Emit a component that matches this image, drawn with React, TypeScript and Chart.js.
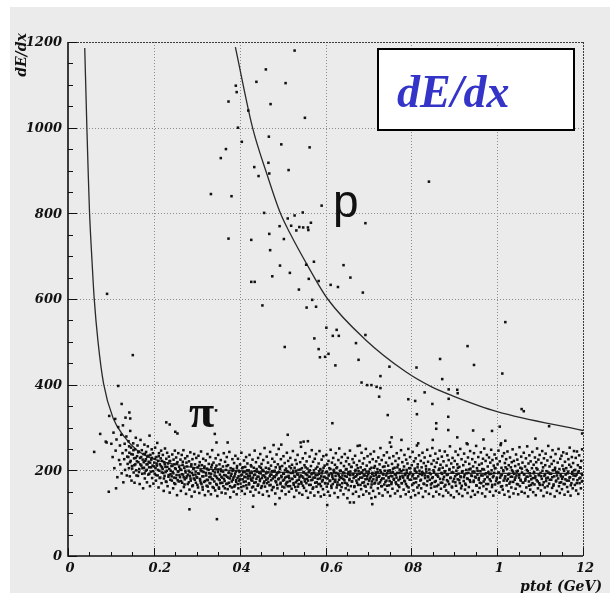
import React, { useEffect, useRef } from 'react';
import { Chart, registerables } from 'chart.js';

Chart.register(...registerables);

const W = 610;
const H = 593;

// Axis ticks and their printed labels
const xMajorTicks = [0, 0.2, 0.4, 0.6, 0.8, 1.0, 1.2];
const xTickLabels = ['0', '0.2', '04', '0.6', '08', '1', '12'];
const yMajorTicks = [0, 200, 400, 600, 800, 1000, 1200];
const yTickLabels = ['0', '200', '400', '600', '800', '1000', '1200'];

// Expected dE/dx bands
const pionCurveP = [0.039, 0.044, 0.047, 0.05, 0.056, 0.061, 0.07, 0.083, 0.105, 0.13, 0.161, 0.192, 0.243, 0.313, 0.4, 0.5, 0.7, 0.9, 1.2];
const pionCurveDedx = [1186, 1000, 898, 806, 688, 602, 500, 402, 322, 280, 247, 229, 215, 204, 199, 195, 193, 193, 193];
const protonCurveP = [0.39, 0.43, 0.464, 0.495, 0.517, 0.56, 0.605, 0.693, 0.787, 0.845, 0.896, 1.0, 1.2];
const protonCurveDedx = [1188, 1000, 890, 800, 754, 675, 600, 505, 430, 396, 374, 337, 293];

// Proton candidates and other tracks above the pion band
const highTracks: number[][] = [
  [0.528, 1180], [0.461, 1136], [0.439, 1107], [0.507, 1104], [0.391, 1098], [0.393, 1083], [0.374, 1061],
  [0.472, 1055], [0.42, 1040], [0.552, 1023], [0.396, 1000], [0.468, 979], [0.405, 967], [0.497, 961],
  [0.563, 954], [0.368, 950], [0.356, 929], [0.434, 908], [0.467, 918], [0.444, 887], [0.469, 893],
  [0.514, 901], [0.333, 845], [0.381, 840], [0.591, 818], [0.457, 801], [0.547, 802], [0.528, 795],
  [0.566, 778], [0.512, 788], [0.493, 770], [0.52, 771], [0.539, 768], [0.548, 767], [0.559, 767],
  [0.56, 761], [0.532, 760], [0.693, 777], [0.469, 752], [0.374, 741], [0.427, 738], [0.503, 740],
  [0.471, 714], [0.573, 687], [0.494, 678], [0.555, 680], [0.642, 679], [0.658, 650], [0.476, 653],
  [0.517, 661], [0.561, 647], [0.584, 642], [0.612, 633], [0.629, 628], [0.538, 622], [0.687, 615],
  [0.427, 640], [0.435, 640], [0.453, 585], [0.569, 598], [0.556, 580], [0.578, 582], [0.602, 533],
  [0.626, 528], [0.617, 514], [0.631, 514], [0.574, 508], [0.693, 516], [0.671, 497], [0.505, 488],
  [0.584, 483], [0.607, 472], [0.587, 464], [0.599, 465], [0.677, 458], [0.623, 445], [0.749, 442],
  [0.812, 440], [0.867, 460], [0.872, 413], [0.728, 420], [0.684, 405], [0.697, 399], [0.707, 399],
  [0.719, 395], [0.728, 392], [0.725, 372], [0.831, 382], [0.793, 366], [0.887, 389], [0.841, 874],
  [1.019, 546], [0.931, 490], [0.946, 446], [1.012, 426], [0.907, 388], [0.908, 380], [0.809, 362],
  [0.849, 355], [0.887, 367], [0.813, 331], [1.057, 343], [1.062, 338], [1.121, 303], [0.886, 325],
  [0.858, 310], [0.858, 297], [0.886, 294], [0.944, 293], [0.988, 292], [1.006, 302], [1.198, 286],
  [0.907, 277], [0.968, 272], [1.019, 269], [1.009, 263], [0.931, 261], [1.089, 274], [0.85, 271],
  [0.816, 263], [0.616, 310], [0.745, 329], [0.542, 265], [0.549, 267], [0.559, 268],
];

// Stray pion-side tracks off the main band
const strayTracks: number[][] = [
  [0.117, 397], [0.125, 355], [0.143, 335], [0.134, 323], [0.145, 321], [0.096, 327], [0.11, 320],
  [0.075, 285], [0.088, 267], [0.09, 265], [0.061, 243], [0.095, 150], [0.229, 312], [0.237, 307],
  [0.25, 290], [0.255, 286], [0.342, 285], [0.346, 265], [0.372, 265], [0.512, 283], [0.283, 109],
  [0.347, 86], [0.431, 115], [0.483, 121], [0.604, 119], [0.657, 125], [0.666, 125], [0.709, 121],
  [0.707, 135], [0.091, 612], [0.151, 469], [0.479, 259], [0.497, 260], [0.68, 258], [0.75, 265],
  [0.754, 277], [0.777, 271], [0.345, 340],
];

// Minimum-ionising pion band, full spread
const pionBand: number[][] = [
  [0.101, 262], [0.104, 231], [0.106, 288], [0.108, 205], [0.111, 246], [0.113, 272], [0.115, 184], [0.117, 301], [0.119, 224], [0.112, 158],
  [0.121, 258], [0.122, 214], [0.124, 283], [0.125, 193], [0.127, 240], [0.128, 305], [0.129, 172], [0.131, 226], [0.132, 262], [0.133, 201], [0.135, 247], [0.136, 279], [0.137, 188], [0.138, 232], [0.139, 215],
  [0.141, 268], [0.142, 205], [0.143, 241], [0.144, 186], [0.145, 292], [0.146, 222], [0.147, 253], [0.148, 176], [0.149, 210], [0.151, 237], [0.152, 263], [0.153, 195], [0.154, 228], [0.155, 171], [0.156, 249], [0.157, 214], [0.158, 276], [0.159, 200],
  [0.161, 233], [0.162, 258], [0.163, 187], [0.164, 219], [0.165, 244], [0.166, 203], [0.167, 168], [0.168, 229], [0.169, 271], [0.171, 211], [0.172, 247], [0.173, 192], [0.174, 225], [0.175, 158], [0.176, 238], [0.177, 206], [0.178, 260], [0.179, 181], [0.18, 222],
  [0.181, 199], [0.182, 243], [0.183, 214], [0.184, 172], [0.185, 232], [0.186, 256], [0.187, 190], [0.188, 220], [0.189, 207], [0.19, 281], [0.191, 163], [0.192, 236], [0.193, 197], [0.194, 225], [0.195, 249], [0.196, 182], [0.197, 211], [0.198, 240], [0.199, 169],
  [0.201, 218], [0.202, 192], [0.203, 253], [0.204, 205], [0.205, 176], [0.206, 231], [0.207, 211], [0.208, 264], [0.209, 188], [0.21, 222], [0.211, 160], [0.212, 240], [0.213, 199], [0.214, 214], [0.215, 183], [0.216, 228], [0.217, 246], [0.218, 170], [0.219, 207],
  [0.221, 236], [0.222, 194], [0.223, 152], [0.224, 219], [0.225, 187], [0.226, 251], [0.227, 208], [0.228, 174], [0.229, 227], [0.23, 199], [0.231, 241], [0.232, 163], [0.233, 216], [0.234, 185], [0.235, 232], [0.236, 203], [0.237, 148], [0.238, 222], [0.239, 191],
  [0.241, 210], [0.242, 176], [0.243, 237], [0.244, 196], [0.245, 158], [0.246, 225], [0.247, 183], [0.248, 214], [0.249, 246], [0.25, 168], [0.251, 203], [0.252, 230], [0.253, 189], [0.254, 142], [0.255, 219], [0.256, 197], [0.257, 240], [0.258, 174], [0.259, 208],
  [0.261, 184], [0.262, 225], [0.263, 152], [0.264, 201], [0.265, 236], [0.266, 171], [0.267, 213], [0.268, 190], [0.269, 247], [0.27, 161], [0.271, 206], [0.272, 179], [0.273, 228], [0.274, 195], [0.275, 145], [0.276, 218], [0.277, 186], [0.278, 233], [0.279, 168],
  [0.281, 199], [0.282, 221], [0.283, 155], [0.284, 187], [0.285, 242], [0.286, 176], [0.287, 210], [0.288, 139], [0.289, 194], [0.29, 226], [0.291, 165], [0.292, 203], [0.293, 181], [0.294, 238], [0.295, 150], [0.296, 214], [0.297, 190], [0.298, 171], [0.299, 229],
  [0.301, 183], [0.302, 207], [0.303, 160], [0.304, 234], [0.305, 192], [0.306, 147], [0.307, 219], [0.308, 176], [0.309, 200], [0.31, 244], [0.311, 168], [0.312, 212], [0.313, 186], [0.314, 155], [0.315, 227], [0.316, 196], [0.317, 173], [0.318, 209], [0.319, 142],
  [0.321, 223], [0.322, 188], [0.323, 164], [0.324, 204], [0.325, 238], [0.326, 177], [0.327, 151], [0.328, 215], [0.329, 193], [0.33, 170], [0.331, 231], [0.332, 185], [0.333, 144], [0.334, 207], [0.335, 180], [0.336, 247], [0.337, 161], [0.338, 199], [0.339, 218],
  [0.341, 174], [0.342, 195], [0.343, 153], [0.344, 228], [0.345, 186], [0.346, 211], [0.347, 166], [0.348, 140], [0.349, 202], [0.35, 236], [0.351, 179], [0.352, 157], [0.353, 214], [0.354, 190], [0.355, 170], [0.356, 224], [0.357, 198], [0.358, 148], [0.359, 183],
  [0.361, 209], [0.362, 163], [0.363, 240], [0.364, 189], [0.365, 175], [0.366, 220], [0.367, 146], [0.368, 201], [0.369, 168], [0.37, 231], [0.371, 185], [0.372, 156], [0.373, 212], [0.374, 194], [0.375, 171], [0.376, 243], [0.377, 181], [0.378, 137], [0.379, 205],
  [0.381, 192], [0.382, 160], [0.383, 226], [0.384, 178], [0.385, 203], [0.386, 150], [0.387, 217], [0.388, 186], [0.389, 165], [0.39, 234], [0.391, 197], [0.392, 173], [0.393, 144], [0.394, 210], [0.395, 182], [0.396, 227], [0.397, 158], [0.398, 199], [0.399, 176],
  [0.401, 214], [0.402, 169], [0.403, 188], [0.404, 241], [0.405, 152], [0.406, 205], [0.407, 179], [0.408, 196], [0.409, 163], [0.41, 223], [0.411, 185], [0.412, 145], [0.413, 208], [0.414, 174], [0.415, 231], [0.416, 192], [0.417, 158], [0.418, 216], [0.419, 181],
  [0.421, 200], [0.422, 167], [0.423, 236], [0.424, 187], [0.425, 150], [0.426, 212], [0.427, 177], [0.428, 194], [0.429, 160], [0.43, 225], [0.431, 183], [0.432, 141], [0.433, 206], [0.434, 171], [0.435, 246], [0.436, 190], [0.437, 155], [0.438, 219], [0.439, 180],
  [0.441, 197], [0.442, 164], [0.443, 229], [0.444, 185], [0.445, 148], [0.446, 209], [0.447, 175], [0.448, 238], [0.449, 193], [0.45, 159], [0.451, 215], [0.452, 182], [0.453, 201], [0.454, 143], [0.455, 224], [0.456, 170], [0.457, 188], [0.458, 252], [0.459, 162],
  [0.461, 206], [0.462, 178], [0.463, 232], [0.464, 151], [0.465, 195], [0.466, 218], [0.467, 173], [0.468, 140], [0.469, 203], [0.47, 186], [0.471, 243], [0.472, 166], [0.473, 211], [0.474, 190], [0.475, 154], [0.476, 227], [0.477, 181], [0.478, 198], [0.479, 161],
  [0.481, 220], [0.482, 184], [0.483, 146], [0.484, 207], [0.485, 172], [0.486, 237], [0.487, 193], [0.488, 158], [0.489, 214], [0.49, 179], [0.491, 250], [0.492, 196], [0.493, 135], [0.494, 203], [0.495, 168], [0.496, 226], [0.497, 187], [0.498, 152], [0.499, 210],
  [0.501, 176], [0.502, 233], [0.503, 192], [0.504, 160], [0.505, 217], [0.506, 183], [0.507, 144], [0.508, 204], [0.509, 171], [0.51, 241], [0.511, 198], [0.512, 163], [0.513, 222], [0.514, 187], [0.515, 150], [0.516, 209], [0.517, 175], [0.518, 229], [0.519, 194],
  [0.521, 157], [0.522, 213], [0.523, 180], [0.524, 245], [0.525, 199], [0.526, 166], [0.527, 138], [0.528, 206], [0.529, 185], [0.53, 224], [0.531, 172], [0.532, 153], [0.533, 215], [0.534, 191], [0.535, 236], [0.536, 162], [0.537, 201], [0.538, 178], [0.539, 147],
  [0.541, 219], [0.542, 188], [0.543, 255], [0.544, 169], [0.545, 205], [0.546, 143], [0.547, 228], [0.548, 183], [0.549, 196], [0.55, 159], [0.551, 212], [0.552, 174], [0.553, 240], [0.554, 191], [0.555, 152], [0.556, 221], [0.557, 180], [0.558, 204], [0.559, 136],
  [0.561, 197], [0.562, 166], [0.563, 232], [0.564, 185], [0.565, 148], [0.566, 210], [0.567, 177], [0.568, 247], [0.569, 193], [0.57, 157], [0.571, 220], [0.572, 183], [0.573, 200], [0.574, 141], [0.575, 227], [0.576, 171], [0.577, 189], [0.578, 238], [0.579, 162],
  [0.581, 208], [0.582, 180], [0.583, 149], [0.584, 216], [0.585, 192], [0.586, 245], [0.587, 168], [0.588, 203], [0.589, 139], [0.59, 186], [0.591, 225], [0.592, 174], [0.593, 199], [0.594, 156], [0.595, 233], [0.596, 184], [0.597, 143], [0.598, 211], [0.599, 170],
  [0.601, 196], [0.602, 236], [0.603, 162], [0.604, 214], [0.605, 181], [0.606, 150], [0.607, 222], [0.608, 189], [0.609, 205], [0.61, 141], [0.611, 176], [0.612, 248], [0.613, 193], [0.614, 159], [0.615, 218], [0.616, 185], [0.617, 168], [0.618, 229], [0.619, 201],
  [0.621, 147], [0.622, 213], [0.623, 178], [0.624, 240], [0.625, 194], [0.626, 160], [0.627, 207], [0.628, 172], [0.629, 137], [0.63, 224], [0.631, 188], [0.632, 251], [0.633, 166], [0.634, 199], [0.635, 153], [0.636, 217], [0.637, 182], [0.638, 231], [0.639, 170],
  [0.641, 195], [0.642, 144], [0.643, 210], [0.644, 177], [0.645, 238], [0.646, 187], [0.647, 158], [0.648, 221], [0.649, 203], [0.65, 169], [0.651, 135], [0.652, 229], [0.653, 191], [0.654, 154], [0.655, 214], [0.656, 180], [0.657, 246], [0.658, 197], [0.659, 163],
  [0.661, 208], [0.662, 174], [0.663, 226], [0.664, 145], [0.665, 192], [0.666, 218], [0.667, 161], [0.668, 185], [0.669, 234], [0.67, 201], [0.671, 150], [0.672, 176], [0.673, 212], [0.674, 190], [0.675, 257], [0.676, 166], [0.677, 198], [0.678, 139], [0.679, 222],
  [0.681, 183], [0.682, 207], [0.683, 156], [0.684, 241], [0.685, 194], [0.686, 171], [0.687, 216], [0.688, 143], [0.689, 188], [0.69, 228], [0.691, 164], [0.692, 202], [0.693, 179], [0.694, 250], [0.695, 151], [0.696, 211], [0.697, 186], [0.698, 233], [0.699, 168],
  [0.701, 197], [0.702, 146], [0.703, 219], [0.704, 181], [0.705, 238], [0.706, 160], [0.707, 206], [0.708, 174], [0.709, 192], [0.71, 226], [0.711, 152], [0.712, 187], [0.713, 244], [0.714, 169], [0.715, 210], [0.716, 138], [0.717, 195], [0.718, 221], [0.719, 177],
  [0.721, 203], [0.722, 158], [0.723, 230], [0.724, 185], [0.725, 146], [0.726, 214], [0.727, 172], [0.728, 252], [0.729, 196], [0.73, 163], [0.731, 224], [0.732, 181], [0.733, 141], [0.734, 208], [0.735, 190], [0.736, 235], [0.737, 167], [0.738, 199], [0.739, 155],
  [0.741, 218], [0.742, 176], [0.743, 242], [0.744, 193], [0.745, 149], [0.746, 211], [0.747, 184], [0.748, 165], [0.749, 229], [0.75, 200], [0.751, 140], [0.752, 187], [0.753, 255], [0.754, 172], [0.755, 215], [0.756, 157], [0.757, 196], [0.758, 233], [0.759, 180],
  [0.761, 206], [0.762, 146], [0.763, 222], [0.764, 189], [0.765, 168], [0.766, 240], [0.767, 194], [0.768, 152], [0.769, 213], [0.77, 177], [0.771, 228], [0.772, 161], [0.773, 202], [0.774, 185], [0.775, 139], [0.776, 247], [0.777, 198], [0.778, 170], [0.779, 219],
  [0.781, 183], [0.782, 155], [0.783, 209], [0.784, 236], [0.785, 174], [0.786, 192], [0.787, 144], [0.788, 225], [0.789, 201], [0.79, 163], [0.791, 216], [0.792, 187], [0.793, 250], [0.794, 150], [0.795, 205], [0.796, 178], [0.797, 231], [0.798, 195], [0.799, 137],
  [0.801, 212], [0.802, 166], [0.803, 243], [0.804, 190], [0.805, 153], [0.806, 221], [0.807, 181], [0.808, 204], [0.809, 142], [0.81, 228], [0.811, 172], [0.812, 196], [0.813, 258], [0.814, 160], [0.815, 214], [0.816, 186], [0.817, 147], [0.818, 235], [0.819, 199],
  [0.821, 176], [0.822, 222], [0.823, 158], [0.824, 207], [0.825, 189], [0.826, 241], [0.827, 138], [0.828, 193], [0.829, 217], [0.83, 168], [0.831, 230], [0.832, 182], [0.833, 151], [0.834, 210], [0.835, 197], [0.836, 165], [0.837, 248], [0.838, 186], [0.839, 220],
  [0.841, 145], [0.842, 202], [0.843, 178], [0.844, 234], [0.845, 191], [0.846, 159], [0.847, 215], [0.848, 170], [0.849, 252], [0.85, 184], [0.851, 139], [0.852, 223], [0.853, 196], [0.854, 162], [0.855, 208], [0.856, 239], [0.857, 175], [0.858, 150], [0.859, 218],
  [0.861, 188], [0.862, 227], [0.863, 166], [0.864, 201], [0.865, 144], [0.866, 246], [0.867, 180], [0.868, 213], [0.869, 157], [0.87, 194], [0.871, 232], [0.872, 171], [0.873, 206], [0.874, 140], [0.875, 221], [0.876, 185], [0.877, 162], [0.878, 244], [0.879, 198],
  [0.881, 153], [0.882, 211], [0.883, 177], [0.884, 235], [0.885, 190], [0.886, 148], [0.887, 224], [0.888, 168], [0.889, 203], [0.89, 256], [0.891, 182], [0.892, 142], [0.893, 216], [0.894, 195], [0.895, 160], [0.896, 229], [0.897, 174], [0.898, 207], [0.899, 137],
  [0.901, 222], [0.902, 186], [0.903, 244], [0.904, 164], [0.905, 199], [0.906, 151], [0.907, 214], [0.908, 179], [0.909, 236], [0.91, 192], [0.911, 145], [0.912, 208], [0.913, 170], [0.914, 250], [0.915, 184], [0.916, 158], [0.917, 226], [0.918, 196], [0.919, 140],
  [0.921, 212], [0.922, 175], [0.923, 239], [0.924, 189], [0.925, 155], [0.926, 220], [0.927, 166], [0.928, 201], [0.929, 263], [0.93, 181], [0.931, 147], [0.932, 230], [0.933, 194], [0.934, 161], [0.935, 215], [0.936, 177], [0.937, 245], [0.938, 204], [0.939, 138],
  [0.941, 187], [0.942, 226], [0.943, 152], [0.944, 209], [0.945, 173], [0.946, 240], [0.947, 197], [0.948, 143], [0.949, 219], [0.95, 183], [0.951, 257], [0.952, 164], [0.953, 205], [0.954, 190], [0.955, 149], [0.956, 231], [0.957, 178], [0.958, 213], [0.959, 159],
  [0.961, 198], [0.962, 242], [0.963, 170], [0.964, 216], [0.965, 146], [0.966, 188], [0.967, 227], [0.968, 163], [0.969, 202], [0.97, 251], [0.971, 179], [0.972, 139], [0.973, 222], [0.974, 193], [0.975, 156], [0.976, 236], [0.977, 185], [0.978, 209], [0.979, 168],
  [0.981, 230], [0.982, 191], [0.983, 150], [0.984, 218], [0.985, 175], [0.986, 248], [0.987, 200], [0.988, 161], [0.989, 224], [0.99, 184], [0.991, 141], [0.992, 211], [0.993, 194], [0.994, 237], [0.995, 167], [0.996, 205], [0.997, 152], [0.998, 228], [0.999, 180],
  [1.001, 214], [1.002, 170], [1.003, 246], [1.004, 195], [1.005, 148], [1.006, 221], [1.007, 183], [1.008, 259], [1.009, 162], [1.01, 206], [1.011, 189], [1.012, 233], [1.013, 155], [1.014, 200], [1.015, 176], [1.016, 240], [1.017, 143], [1.018, 217], [1.019, 186],
  [1.021, 226], [1.022, 165], [1.023, 203], [1.024, 244], [1.025, 180], [1.026, 151], [1.027, 212], [1.028, 192], [1.029, 138], [1.03, 230], [1.031, 173], [1.032, 207], [1.033, 160], [1.034, 219], [1.035, 185], [1.036, 249], [1.037, 197], [1.038, 146], [1.039, 222],
  [1.041, 178], [1.042, 210], [1.043, 157], [1.044, 237], [1.045, 188], [1.046, 168], [1.047, 225], [1.048, 199], [1.049, 144], [1.05, 214], [1.051, 183], [1.052, 254], [1.053, 163], [1.054, 206], [1.055, 176], [1.056, 232], [1.057, 150], [1.058, 195], [1.059, 218],
  [1.061, 171], [1.062, 241], [1.063, 190], [1.064, 147], [1.065, 209], [1.066, 180], [1.067, 228], [1.068, 160], [1.069, 201], [1.07, 256], [1.071, 185], [1.072, 139], [1.073, 216], [1.074, 174], [1.075, 235], [1.076, 193], [1.077, 155], [1.078, 221], [1.079, 166],
  [1.081, 205], [1.082, 243], [1.083, 182], [1.084, 149], [1.085, 213], [1.086, 196], [1.087, 167], [1.088, 230], [1.089, 186], [1.09, 142], [1.091, 219], [1.092, 177], [1.093, 251], [1.094, 202], [1.095, 158], [1.096, 225], [1.097, 189], [1.098, 170], [1.099, 236],
  [1.101, 194], [1.102, 153], [1.103, 217], [1.104, 180], [1.105, 245], [1.106, 166], [1.107, 207], [1.108, 140], [1.109, 228], [1.11, 187], [1.111, 160], [1.112, 212], [1.113, 239], [1.114, 175], [1.115, 198], [1.116, 148], [1.117, 223], [1.118, 183], [1.119, 257],
  [1.121, 169], [1.122, 209], [1.123, 192], [1.124, 145], [1.125, 231], [1.126, 178], [1.127, 215], [1.128, 159], [1.129, 247], [1.13, 200], [1.131, 164], [1.132, 222], [1.133, 186], [1.134, 139], [1.135, 206], [1.136, 238], [1.137, 174], [1.138, 196], [1.139, 152],
  [1.141, 218], [1.142, 181], [1.143, 250], [1.144, 163], [1.145, 203], [1.146, 147], [1.147, 227], [1.148, 190], [1.149, 172], [1.15, 234], [1.151, 156], [1.152, 211], [1.153, 185], [1.154, 242], [1.155, 168], [1.156, 199], [1.157, 143], [1.158, 220], [1.159, 179],
  [1.161, 205], [1.162, 239], [1.163, 161], [1.164, 193], [1.165, 150], [1.166, 226], [1.167, 176], [1.168, 213], [1.169, 253], [1.17, 184], [1.171, 141], [1.172, 208], [1.173, 170], [1.174, 231], [1.175, 196], [1.176, 158], [1.177, 217], [1.178, 188], [1.179, 245],
  [1.181, 166], [1.182, 201], [1.183, 229], [1.184, 153], [1.185, 190], [1.186, 244], [1.187, 177], [1.188, 212], [1.189, 145], [1.19, 198], [1.191, 235], [1.192, 170], [1.193, 207], [1.194, 183], [1.195, 158], [1.196, 222], [1.197, 192], [1.198, 249], [1.199, 175],
];

// Dense core of the pion band
const pionCore: number[][] = [
  [0.1405, 231], [0.1425, 256], [0.1445, 219], [0.1475, 238], [0.1495, 204], [0.1525, 247], [0.1545, 212], [0.1575, 229], [0.1595, 188],
  [0.1605, 221], [0.1635, 242], [0.1655, 196], [0.1685, 214], [0.1705, 231], [0.1735, 205], [0.1765, 219], [0.1785, 193], [0.1795, 238],
  [0.1815, 226], [0.1835, 201], [0.1855, 214], [0.1875, 234], [0.1895, 192], [0.1915, 218], [0.1935, 207], [0.1955, 229], [0.1985, 198],
  [0.2005, 209], [0.2025, 227], [0.2045, 189], [0.2065, 216], [0.2095, 201], [0.2115, 233], [0.2135, 182], [0.2165, 210], [0.2185, 195], [0.2195, 222],
  [0.2205, 203], [0.2235, 181], [0.2255, 214], [0.2275, 196], [0.2295, 173], [0.2315, 208], [0.2345, 189], [0.2365, 221], [0.2385, 178], [0.2395, 199],
  [0.2415, 186], [0.2435, 211], [0.2455, 193], [0.2475, 170], [0.2495, 205], [0.2515, 182], [0.2535, 216], [0.2555, 177], [0.2575, 198], [0.2595, 189],
  [0.2615, 203], [0.2635, 175], [0.2655, 191], [0.2675, 220], [0.2695, 184], [0.2715, 167], [0.2735, 199], [0.2755, 182], [0.2775, 209], [0.2795, 190],
  [0.2815, 172], [0.2835, 196], [0.2855, 181], [0.2875, 214], [0.2895, 163], [0.2915, 189], [0.2935, 205], [0.2955, 178], [0.2975, 197], [0.2995, 184],
  [0.3015, 166], [0.3035, 193], [0.3055, 211], [0.3075, 180], [0.3095, 171], [0.3115, 198], [0.3135, 161], [0.3155, 186], [0.3175, 206], [0.3195, 175],
  [0.3215, 194], [0.3235, 178], [0.3255, 162], [0.3275, 201], [0.3295, 184], [0.3315, 170], [0.3335, 192], [0.3355, 213], [0.3375, 179], [0.3395, 159],
  [0.3415, 188], [0.3435, 205], [0.3455, 168], [0.3475, 182], [0.3495, 196], [0.3515, 160], [0.3535, 177], [0.3555, 203], [0.3575, 185], [0.3595, 171],
  [0.3615, 197], [0.3635, 180], [0.3655, 158], [0.3675, 188], [0.3695, 210], [0.3715, 169], [0.3735, 183], [0.3755, 195], [0.3775, 163], [0.3795, 187],
  [0.3815, 174], [0.3835, 199], [0.3855, 183], [0.3875, 162], [0.3895, 192], [0.3915, 177], [0.3935, 205], [0.3955, 168], [0.3975, 186], [0.3995, 196],
  [0.4015, 179], [0.4035, 161], [0.4055, 190], [0.4075, 207], [0.4095, 173], [0.4115, 196], [0.4135, 184], [0.4155, 165], [0.4175, 200], [0.4195, 187],
  [0.4215, 170], [0.4235, 193], [0.4255, 181], [0.4275, 209], [0.4295, 176], [0.4315, 162], [0.4335, 189], [0.4355, 198], [0.4375, 172], [0.4395, 203],
  [0.4415, 185], [0.4435, 167], [0.4455, 194], [0.4475, 179], [0.4495, 206], [0.4515, 163], [0.4535, 188], [0.4555, 199], [0.4575, 174], [0.4595, 184],
  [0.4615, 193], [0.4635, 170], [0.4655, 181], [0.4675, 204], [0.4695, 165], [0.4715, 190], [0.4735, 177], [0.4755, 198], [0.4775, 160], [0.4795, 186],
  [0.4815, 199], [0.4835, 175], [0.4855, 189], [0.4875, 166], [0.4895, 195], [0.4915, 181], [0.4935, 208], [0.4955, 171], [0.4975, 184], [0.4995, 162],
  [0.5015, 192], [0.5035, 178], [0.5055, 200], [0.5075, 167], [0.5095, 185], [0.5115, 173], [0.5135, 196], [0.5155, 182], [0.5175, 163], [0.5195, 205],
  [0.5215, 180], [0.5235, 194], [0.5255, 170], [0.5275, 187], [0.5295, 161], [0.5315, 199], [0.5335, 176], [0.5355, 190], [0.5375, 168], [0.5395, 184],
  [0.5415, 202], [0.5435, 173], [0.5455, 186], [0.5475, 164], [0.5495, 195], [0.5515, 179], [0.5535, 207], [0.5555, 170], [0.5575, 189], [0.5595, 176],
  [0.5615, 185], [0.5635, 200], [0.5655, 166], [0.5675, 191], [0.5695, 178], [0.5715, 160], [0.5735, 194], [0.5755, 183], [0.5775, 204], [0.5795, 172],
  [0.5815, 189], [0.5835, 168], [0.5855, 198], [0.5875, 181], [0.5895, 163], [0.5915, 193], [0.5935, 177], [0.5955, 206], [0.5975, 185], [0.5995, 170],
  [0.6015, 182], [0.6035, 197], [0.6055, 169], [0.6075, 188], [0.6095, 175], [0.6115, 203], [0.6135, 164], [0.6155, 190], [0.6175, 180], [0.6195, 196],
  [0.6215, 173], [0.6235, 187], [0.6255, 205], [0.6275, 166], [0.6295, 192], [0.6315, 178], [0.6335, 184], [0.6355, 199], [0.6375, 161], [0.6395, 188],
  [0.6415, 180], [0.6435, 194], [0.6455, 171], [0.6475, 202], [0.6495, 185], [0.6515, 165], [0.6535, 196], [0.6555, 177], [0.6575, 189], [0.6595, 208],
  [0.6615, 174], [0.6635, 190], [0.6655, 182], [0.6675, 163], [0.6695, 198], [0.6715, 186], [0.6735, 171], [0.6755, 205], [0.6775, 179], [0.6795, 192],
  [0.6815, 166], [0.6835, 195], [0.6855, 183], [0.6875, 200], [0.6895, 172], [0.6915, 188], [0.6935, 162], [0.6955, 197], [0.6975, 180], [0.6995, 191],
  [0.7015, 176], [0.7035, 203], [0.7055, 185], [0.7075, 167], [0.7095, 194], [0.7115, 179], [0.7135, 206], [0.7155, 171], [0.7175, 189], [0.7195, 183],
  [0.7215, 196], [0.7235, 169], [0.7255, 187], [0.7275, 200], [0.7295, 177], [0.7315, 163], [0.7335, 192], [0.7355, 181], [0.7375, 209], [0.7395, 173],
  [0.7415, 188], [0.7435, 164], [0.7455, 199], [0.7475, 182], [0.7495, 175], [0.7515, 195], [0.7535, 168], [0.7555, 186], [0.7575, 204], [0.7595, 178],
  [0.7615, 191], [0.7635, 172], [0.7655, 183], [0.7675, 207], [0.7695, 165], [0.7715, 194], [0.7735, 180], [0.7755, 198], [0.7775, 170], [0.7795, 187],
  [0.7815, 201], [0.7835, 176], [0.7855, 189], [0.7875, 168], [0.7895, 195], [0.7915, 182], [0.7935, 160], [0.7955, 191], [0.7975, 205], [0.7995, 178],
  [0.8025, 186], [0.8055, 170], [0.8085, 199], [0.8115, 181], [0.8145, 207], [0.8175, 165], [0.8195, 192],
  [0.8225, 178], [0.8255, 196], [0.8285, 169], [0.8315, 188], [0.8345, 203], [0.8375, 175], [0.8395, 184],
  [0.8425, 194], [0.8455, 167], [0.8485, 182], [0.8515, 200], [0.8545, 173], [0.8575, 190], [0.8595, 163],
  [0.8625, 185], [0.8655, 204], [0.8685, 171], [0.8715, 192], [0.8745, 179], [0.8775, 197], [0.8795, 166],
  [0.8825, 189], [0.8855, 174], [0.8885, 201], [0.8915, 183], [0.8945, 162], [0.8975, 195], [0.8995, 180],
  [0.9025, 172], [0.9055, 190], [0.9085, 206], [0.9115, 177], [0.9145, 186], [0.9175, 164], [0.9195, 198],
  [0.9225, 184], [0.9255, 169], [0.9285, 193], [0.9315, 180], [0.9345, 202], [0.9375, 173], [0.9395, 188],
  [0.9425, 197], [0.9455, 176], [0.9485, 185], [0.9515, 165], [0.9545, 199], [0.9575, 182], [0.9595, 171],
  [0.9625, 188], [0.9655, 203], [0.9685, 174], [0.9715, 191], [0.9745, 168], [0.9775, 184], [0.9795, 196],
  [0.9825, 179], [0.9855, 192], [0.9885, 166], [0.9915, 187], [0.9945, 205], [0.9975, 175], [0.9995, 183],
  [1.0025, 194], [1.0055, 172], [1.0085, 188], [1.0115, 163], [1.0145, 198], [1.0175, 181], [1.0195, 207],
  [1.0225, 176], [1.0255, 190], [1.0285, 169], [1.0315, 185], [1.0345, 200], [1.0375, 173], [1.0395, 192],
  [1.0425, 183], [1.0455, 197], [1.0485, 167], [1.0515, 189], [1.0545, 178], [1.0575, 204], [1.0595, 171],
  [1.0625, 191], [1.0655, 176], [1.0685, 185], [1.0715, 198], [1.0745, 164], [1.0775, 187], [1.0795, 179],
  [1.0825, 170], [1.0855, 193], [1.0885, 182], [1.0915, 205], [1.0945, 174], [1.0975, 189], [1.0995, 166],
  [1.1025, 186], [1.1055, 199], [1.1085, 172], [1.1115, 190], [1.1145, 181], [1.1175, 163], [1.1195, 195],
  [1.1225, 178], [1.1255, 192], [1.1285, 184], [1.1315, 167], [1.1345, 201], [1.1375, 176], [1.1395, 188],
  [1.1425, 195], [1.1455, 171], [1.1485, 186], [1.1515, 180], [1.1545, 203], [1.1575, 168], [1.1595, 190],
  [1.1625, 176], [1.1655, 197], [1.1685, 183], [1.1715, 165], [1.1745, 192], [1.1775, 179], [1.1795, 200],
  [1.1825, 187], [1.1855, 170], [1.1885, 195], [1.1915, 181], [1.1945, 206], [1.1975, 174], [1.1985, 189],
];

const PANEL = '#ebebeb';
const TICK_FONT = 'bold italic 13px "DejaVu Serif"';

const toXY = (rows: number[][]) => rows.map(([x, y]) => ({ x, y }));
const curveXY = (ps: number[], vs: number[]) => ps.map((x, i) => ({ x, y: vs[i] }));

const hbookFrame = {
  id: 'hbookFrame',
  beforeDraw(chart: any) {
    const { ctx } = chart;
    ctx.save();
    ctx.fillStyle = '#ffffff';
    ctx.fillRect(0, 0, W, H);
    ctx.fillStyle = PANEL;
    ctx.fillRect(10, 7, W - 10, H - 7);
    ctx.restore();
  },
  beforeDatasetsDraw(chart: any) {
    const { ctx, chartArea: a, scales } = chart;
    const xs = scales.x;
    const ys = scales.y;
    ctx.save();
    ctx.lineWidth = 1;
    ctx.strokeStyle = '#8c8c8c';
    ctx.setLineDash([1, 2]);
    xMajorTicks.slice(1, -1).forEach((v) => {
      const px = Math.round(xs.getPixelForValue(v)) + 0.5;
      ctx.beginPath();
      ctx.moveTo(px, a.top);
      ctx.lineTo(px, a.bottom);
      ctx.stroke();
    });
    yMajorTicks.slice(1, -1).forEach((v) => {
      const py = Math.round(ys.getPixelForValue(v)) + 0.5;
      ctx.beginPath();
      ctx.moveTo(a.left, py);
      ctx.lineTo(a.right, py);
      ctx.stroke();
    });
    // top and right edges of the frame
    ctx.strokeStyle = '#3a3a3a';
    ctx.setLineDash([2, 1]);
    ctx.beginPath();
    ctx.moveTo(a.left, Math.round(a.top) + 0.5);
    ctx.lineTo(a.right, Math.round(a.top) + 0.5);
    ctx.moveTo(Math.round(a.right) + 0.5, a.top);
    ctx.lineTo(Math.round(a.right) + 0.5, a.bottom);
    ctx.stroke();
    ctx.restore();
  },
  afterDatasetsDraw(chart: any) {
    const { ctx, chartArea: a, scales } = chart;
    const xs = scales.x;
    const ys = scales.y;
    ctx.save();
    ctx.setLineDash([]);
    ctx.strokeStyle = '#111';
    ctx.lineWidth = 1;

    // minor and major ticks pointing inward
    for (let i = 0; i <= 24; i++) {
      const px = Math.round(xs.getPixelForValue(i * 0.05)) + 0.5;
      const len = i % 4 === 0 ? 8 : 4;
      ctx.beginPath();
      ctx.moveTo(px, a.bottom);
      ctx.lineTo(px, a.bottom - len);
      ctx.stroke();
      const py = Math.round(ys.getPixelForValue(i * 50)) + 0.5;
      ctx.beginPath();
      ctx.moveTo(a.left, py);
      ctx.lineTo(a.left + len + 1, py);
      ctx.stroke();
    }

    // left and bottom axes
    ctx.lineWidth = 1.6;
    ctx.beginPath();
    ctx.moveTo(a.left, a.top);
    ctx.lineTo(a.left, a.bottom);
    ctx.lineTo(a.right, a.bottom);
    ctx.stroke();

    // tick labels
    ctx.fillStyle = '#111';
    ctx.font = TICK_FONT;
    ctx.textBaseline = 'middle';
    ctx.textAlign = 'right';
    yMajorTicks.forEach((v, i) => {
      ctx.fillText(yTickLabels[i], a.left - 6, ys.getPixelForValue(v) + 1);
    });
    ctx.textAlign = 'center';
    xMajorTicks.forEach((v, i) => {
      const lbl = xTickLabels[i];
      const shift = lbl.includes('.') ? 6 : 2;
      ctx.fillText(lbl, xs.getPixelForValue(v) + shift, a.bottom + 13);
    });

    // axis titles
    ctx.font = 'bold italic 14px "DejaVu Serif"';
    ctx.textAlign = 'right';
    ctx.textBaseline = 'alphabetic';
    ctx.fillText('ptot (GeV)', 602, 591);
    ctx.save();
    ctx.translate(26, 55);
    ctx.rotate(-Math.PI / 2);
    ctx.textAlign = 'center';
    ctx.fillText('dE/dx', 0, 0);
    ctx.restore();

    // particle labels
    ctx.textAlign = 'left';
    ctx.font = 'bold 46px "Liberation Serif"';
    ctx.fillText('π', 189, 427);
    ctx.font = '46px "Liberation Sans"';
    ctx.fillText('p', 333, 217);

    // title box
    ctx.fillStyle = '#ffffff';
    ctx.fillRect(378, 49, 196, 81);
    ctx.lineWidth = 2;
    ctx.strokeStyle = '#000';
    ctx.strokeRect(378, 49, 196, 81);
    ctx.fillStyle = '#3434c8';
    ctx.font = 'bold italic 46px "Liberation Serif"';
    ctx.fillText('dE/dx', 397, 107);
    ctx.restore();
  },
};

export default function App() {
  const ref = useRef<HTMLCanvasElement | null>(null);

  useEffect(() => {
    if (!ref.current) return;
    const chart = new Chart(ref.current, {
      type: 'scatter',
      data: {
        datasets: [
          {
            label: 'tracks',
            data: [...toXY(pionBand), ...toXY(pionCore), ...toXY(strayTracks), ...toXY(highTracks)],
            pointStyle: 'rect',
            pointRadius: 1.8,
            pointBorderWidth: 0,
            pointBackgroundColor: '#111',
            showLine: false,
          },
          {
            label: 'pion',
            data: curveXY(pionCurveP, pionCurveDedx),
            showLine: true,
            borderColor: '#2a2a2a',
            borderWidth: 1.3,
            pointRadius: 0,
            cubicInterpolationMode: 'monotone',
          },
          {
            label: 'proton',
            data: curveXY(protonCurveP, protonCurveDedx),
            showLine: true,
            borderColor: '#2a2a2a',
            borderWidth: 1.3,
            pointRadius: 0,
            cubicInterpolationMode: 'monotone',
          },
        ],
      },
      options: {
        responsive: false,
        animation: false,
        devicePixelRatio: 1,
        events: [],
        layout: { padding: { left: 68, top: 42, right: 27, bottom: 37 } },
        plugins: { legend: { display: false }, tooltip: { enabled: false } },
        scales: {
          x: { type: 'linear', min: 0, max: 1.2, display: false },
          y: { type: 'linear', min: 0, max: 1200, display: false },
        },
      },
      plugins: [hbookFrame],
    });
    return () => chart.destroy();
  }, []);

  return (
    <div style={{ position: 'fixed', left: 0, top: 0, width: W, height: H, background: '#fff' }}>
      <canvas ref={ref} width={W} height={H} style={{ display: 'block', width: W, height: H }} />
    </div>
  );
}
